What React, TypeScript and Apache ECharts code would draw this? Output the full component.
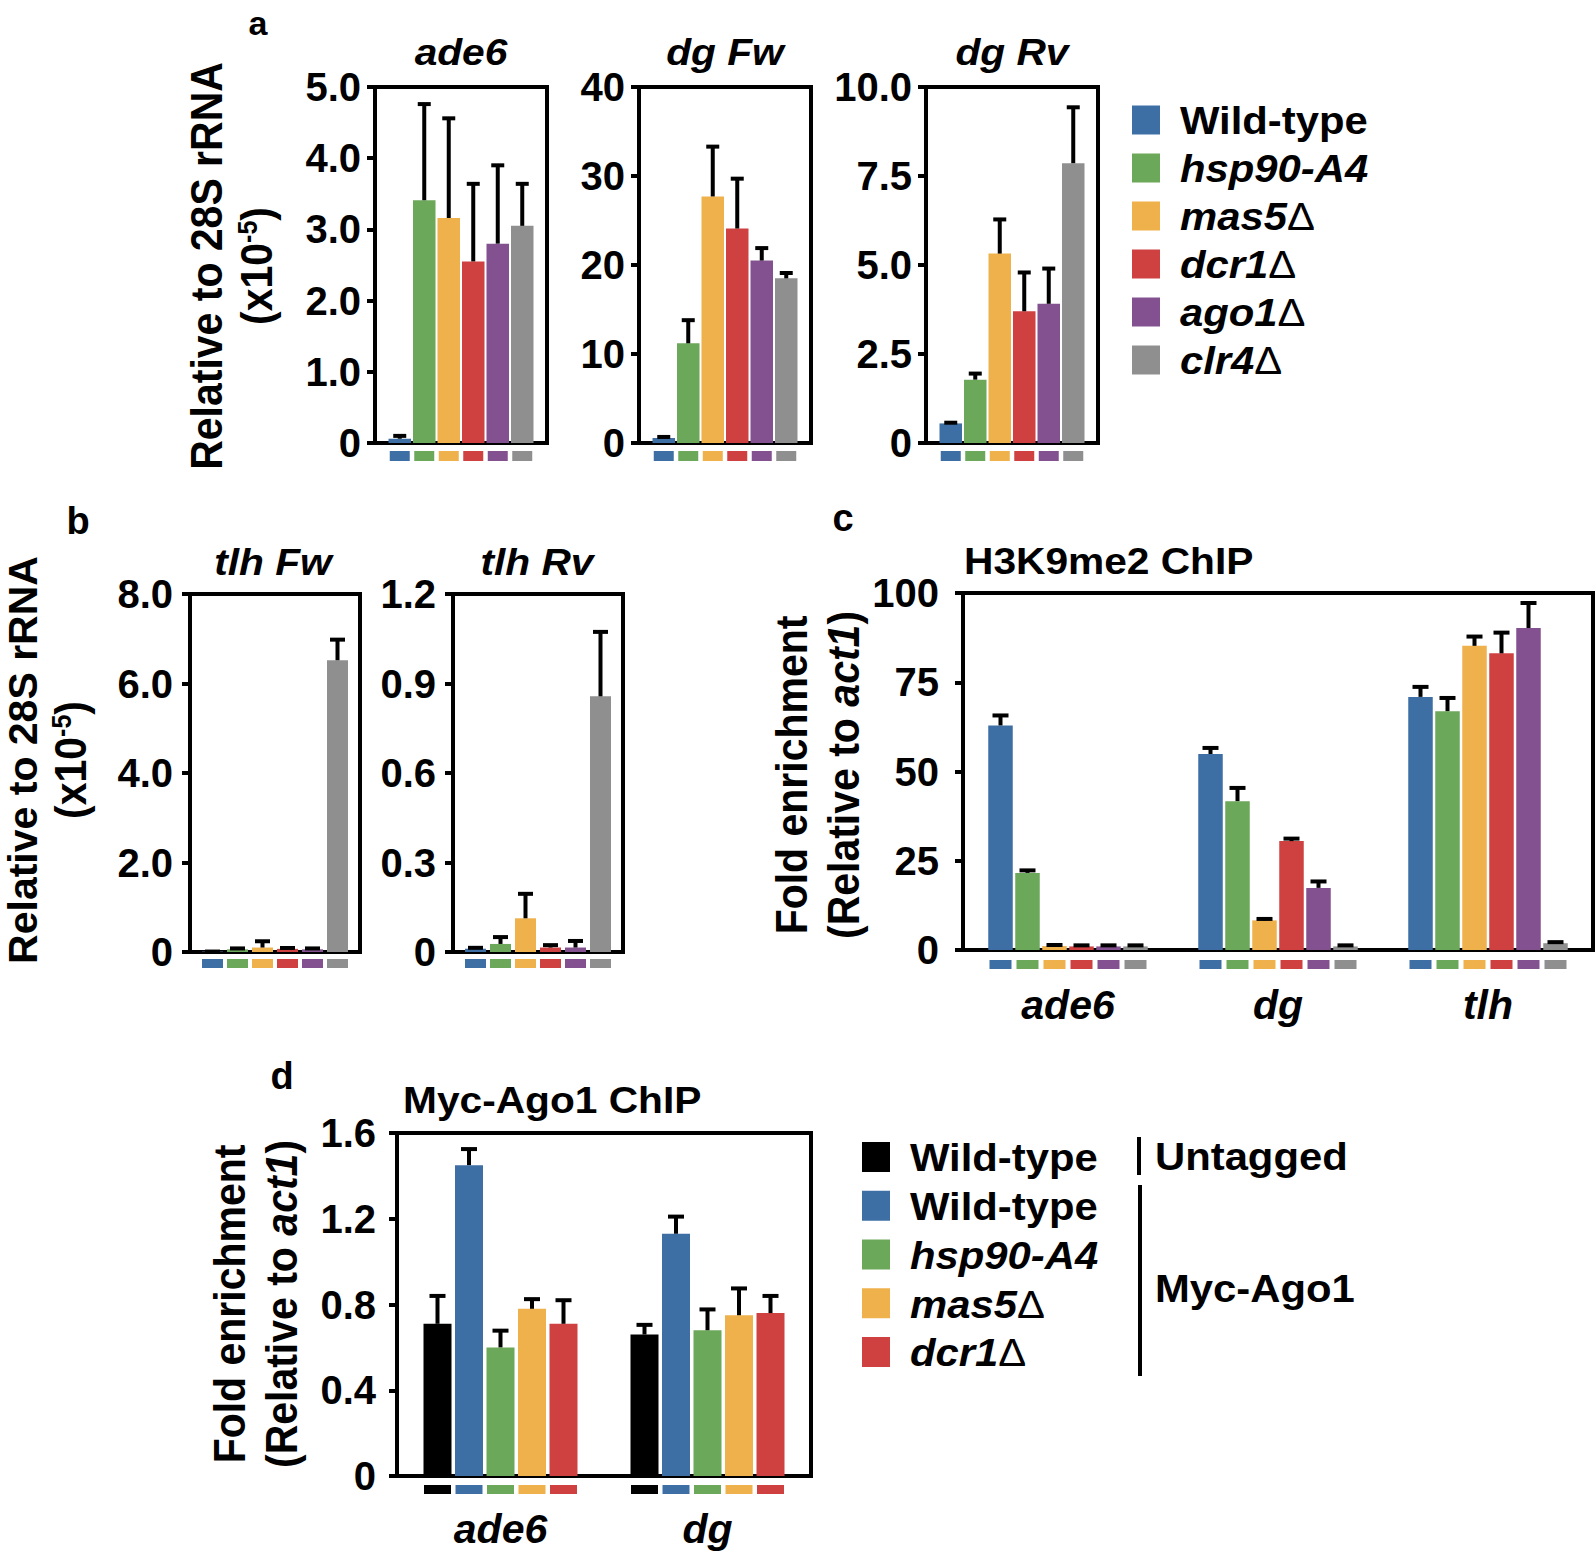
import React, { useEffect, useRef } from 'react';
import * as echarts from 'echarts';

const FONT = '"Liberation Sans", Arial, Helvetica, sans-serif';

// ---- strains (panels a–c) ----
const strains = ['Wild-type', 'hsp90-A4', 'mas5Δ', 'dcr1Δ', 'ago1Δ', 'clr4Δ'];
const strainColors = ['#3D6EA4', '#6BA859', '#EFB14B', '#CF4141', '#845190', '#8F8F8F'];

// ---- panel a: relative to 28S rRNA (x10-5) ----
const ade6Expr = [0.06, 3.41, 3.16, 2.55, 2.8, 3.05];
const ade6ExprErr = [0.04, 1.35, 1.4, 1.09, 1.1, 0.59];
const dgFwExpr = [0.56, 11.2, 27.7, 24.1, 20.5, 18.5];
const dgFwExprErr = [0.12, 2.6, 5.6, 5.6, 1.4, 0.6];
const dgRvExpr = [0.55, 1.78, 5.32, 3.7, 3.91, 7.86];
const dgRvExprErr = [0.02, 0.17, 0.96, 1.09, 0.99, 1.57];
const ade6Ticks = ['0', '1.0', '2.0', '3.0', '4.0', '5.0'];
const dgFwTicks = ['0', '10', '20', '30', '40'];
const dgRvTicks = ['0', '2.5', '5.0', '7.5', '10.0'];

// ---- panel b ----
const tlhFwExpr = [0.01, 0.06, 0.1, 0.07, 0.06, 6.52];
const tlhFwExprErr = [0, 0.02, 0.14, 0.02, 0.02, 0.46];
const tlhRvExpr = [0.011, 0.027, 0.113, 0.015, 0.015, 0.857];
const tlhRvExprErr = [0.003, 0.023, 0.082, 0.008, 0.022, 0.216];
const tlhFwTicks = ['0', '2.0', '4.0', '6.0', '8.0'];
const tlhRvTicks = ['0', '0.3', '0.6', '0.9', '1.2'];

// ---- panel c: H3K9me2 ChIP ----
const h3k9Loci = ['ade6', 'dg', 'tlh'];
const h3k9WildType = [62.9, 54.9, 70.9];
const h3k9Hsp90 = [21.6, 41.7, 66.9];
const h3k9Mas5 = [1.1, 8.3, 85.2];
const h3k9Dcr1 = [1.0, 30.5, 83.1];
const h3k9Ago1 = [1.0, 17.4, 90.2];
const h3k9Clr4 = [1.0, 1.0, 1.9];
const h3k9WildTypeErr = [2.8, 1.7, 2.8];
const h3k9Hsp90Err = [0.7, 3.7, 3.7];
const h3k9Mas5Err = [0.3, 0.4, 2.6];
const h3k9Dcr1Err = [0.3, 0.7, 5.8];
const h3k9Ago1Err = [0.3, 1.8, 7.0];
const h3k9Clr4Err = [0.3, 0.3, 0.3];
const h3k9Ticks = ['0', '25', '50', '75', '100'];

// ---- panel d: Myc-Ago1 ChIP ----
const agoLoci = ['ade6', 'dg'];
const agoStrains = ['Wild-type', 'Wild-type', 'hsp90-A4', 'mas5Δ', 'dcr1Δ'];
const agoColors = ['#000000', '#3D6EA4', '#6BA859', '#EFB14B', '#CF4141'];
const agoUntagged = [0.71, 0.66];
const agoWildType = [1.45, 1.13];
const agoHsp90 = [0.6, 0.68];
const agoMas5 = [0.78, 0.75];
const agoDcr1 = [0.71, 0.76];
const agoUntaggedErr = [0.13, 0.045];
const agoWildTypeErr = [0.075, 0.08];
const agoHsp90Err = [0.078, 0.097];
const agoMas5Err = [0.045, 0.125];
const agoDcr1Err = [0.11, 0.08];
const agoTicks = ['0', '0.4', '0.8', '1.2', '1.6'];

type Panel = {
  left: number; right: number; top: number; bottom: number;
  max: number; interval: number; ticks: string[];
  cats: string[]; showCats: boolean; catMargin: number;
  values: number[][]; errors: number[][]; colors: string[];
  barW: number; gap: number; capW: number;
  sqW: number; sqH: number; sqOff: number; labelMargin: number;
};

const single = (vals: number[]) => vals.map((v) => [v]);

const aBase = { top: 87, bottom: 443, cats: ['x'], showCats: false, catMargin: 0, colors: strainColors,
  barW: 22.5, gap: 2, capW: 13, sqW: 20, sqH: 10, sqOff: 8, labelMargin: 14 };
const bBase = { top: 594, bottom: 952, cats: ['x'], showCats: false, catMargin: 0, colors: strainColors,
  barW: 21, gap: 4, capW: 15, sqW: 21, sqH: 9, sqOff: 7, labelMargin: 17 };

const panels: Panel[] = [
  { ...aBase, left: 375, right: 547, max: 5, interval: 1, ticks: ade6Ticks, values: single(ade6Expr), errors: single(ade6ExprErr) },
  { ...aBase, left: 639, right: 811, max: 40, interval: 10, ticks: dgFwTicks, values: single(dgFwExpr), errors: single(dgFwExprErr) },
  { ...aBase, left: 926, right: 1098, max: 10, interval: 2.5, ticks: dgRvTicks, values: single(dgRvExpr), errors: single(dgRvExprErr) },
  { ...bBase, left: 190, right: 360, max: 8, interval: 2, ticks: tlhFwTicks, values: single(tlhFwExpr), errors: single(tlhFwExprErr) },
  { ...bBase, left: 453, right: 623, max: 1.2, interval: 0.3, ticks: tlhRvTicks, values: single(tlhRvExpr), errors: single(tlhRvExprErr) },
  {
    left: 963, right: 1593, top: 593, bottom: 950, max: 100, interval: 25, ticks: h3k9Ticks,
    cats: h3k9Loci, showCats: true, catMargin: 35, colors: strainColors,
    values: [h3k9WildType, h3k9Hsp90, h3k9Mas5, h3k9Dcr1, h3k9Ago1, h3k9Clr4],
    errors: [h3k9WildTypeErr, h3k9Hsp90Err, h3k9Mas5Err, h3k9Dcr1Err, h3k9Ago1Err, h3k9Clr4Err],
    barW: 24.5, gap: 2.5, capW: 16, sqW: 22, sqH: 9, sqOff: 10, labelMargin: 24,
  },
  {
    left: 397, right: 811, top: 1133, bottom: 1476, max: 1.6, interval: 0.4, ticks: agoTicks,
    cats: agoLoci, showCats: true, catMargin: 33, colors: agoColors,
    values: [agoUntagged, agoWildType, agoHsp90, agoMas5, agoDcr1],
    errors: [agoUntaggedErr, agoWildTypeErr, agoHsp90Err, agoMas5Err, agoDcr1Err],
    barW: 28, gap: 3.5, capW: 16, sqW: 27, sqH: 9, sqOff: 9, labelMargin: 21,
  },
];

function buildOption() {
  const grid: any[] = [];
  const xAxis: any[] = [];
  const yAxis: any[] = [];
  const series: any[] = [];

  panels.forEach((p, gi) => {
    grid.push({
      left: p.left, top: p.top, width: p.right - p.left, height: p.bottom - p.top,
      show: true, borderColor: '#000', borderWidth: 4, backgroundColor: 'rgba(0,0,0,0)',
    });
    xAxis.push({
      gridIndex: gi, type: 'category', data: p.cats,
      axisLine: { show: true, onZero: false, lineStyle: { color: '#000', width: 4 } },
      axisTick: { show: false },
      axisLabel: {
        show: p.showCats, margin: p.catMargin, color: '#000', fontFamily: FONT,
        fontSize: 41, lineHeight: 40, fontWeight: 'bold', fontStyle: 'italic',
      },
      splitLine: { show: false },
    });
    yAxis.push({
      gridIndex: gi, type: 'value', min: 0, max: p.max, interval: p.interval,
      axisLine: { show: true, lineStyle: { color: '#000', width: 4 } },
      axisTick: { show: true, length: 8, lineStyle: { color: '#000', width: 4 } },
      axisLabel: {
        margin: p.labelMargin, color: '#000', fontFamily: FONT, fontSize: 40, fontWeight: 'bold',
        formatter: (v: number) => p.ticks[Math.round(v / p.interval)] ?? '',
      },
      splitLine: { show: false },
    });

    const n = p.colors.length;
    const total = n * p.barW + (n - 1) * p.gap;
    const off = (i: number) => -total / 2 + p.barW / 2 + i * (p.barW + p.gap);

    p.values.forEach((vals, i) => {
      series.push({
        type: 'bar', xAxisIndex: gi, yAxisIndex: gi, data: vals, silent: true,
        barWidth: p.barW, barGap: (p.gap / p.barW) * 100 + '%',
        itemStyle: { color: p.colors[i] },
      });
    });
    p.values.forEach((vals, i) => {
      series.push({
        type: 'custom', xAxisIndex: gi, yAxisIndex: gi, clip: false, silent: true, z: 5,
        encode: { x: 0, y: 1 },
        data: vals.map((v, c) => [c, v, p.errors[i][c]]),
        renderItem: (_params: any, api: any) => {
          const c = api.value(0);
          const v = api.value(1);
          const e = api.value(2);
          const b = api.coord([c, v]);
          const t = api.coord([c, v + e]);
          const x = b[0] + off(i);
          return {
            type: 'group',
            children: [
              { type: 'line', shape: { x1: x, y1: b[1], x2: x, y2: t[1] }, style: { stroke: '#000', lineWidth: 4 } },
              { type: 'line', shape: { x1: x - p.capW / 2, y1: t[1], x2: x + p.capW / 2, y2: t[1] }, style: { stroke: '#000', lineWidth: 4 } },
            ],
          };
        },
      });
    });
    const sq: number[][] = [];
    p.cats.forEach((_c, c) => p.colors.forEach((_col, i) => sq.push([c, 0, i])));
    series.push({
      type: 'custom', xAxisIndex: gi, yAxisIndex: gi, clip: false, silent: true,
      encode: { x: 0, y: 1 }, data: sq,
      renderItem: (_params: any, api: any) => {
        const c = api.value(0);
        const i = api.value(2);
        const b = api.coord([c, 0]);
        const x = b[0] + off(i);
        return {
          type: 'rect',
          shape: { x: x - p.sqW / 2, y: b[1] + p.sqOff, width: p.sqW, height: p.sqH },
          style: { fill: p.colors[i] },
        };
      },
    });
  });

  const rs = (size: number) => ({
    n: { fontFamily: FONT, fontSize: size, fontWeight: 'bold', fontStyle: 'normal', fill: '#000' },
    i: { fontFamily: FONT, fontSize: size, fontWeight: 'bold', fontStyle: 'italic', fill: '#000' },
    d: { fontFamily: FONT, fontSize: size, fontWeight: 'normal', fontStyle: 'normal', fill: '#000' },
    s: { fontFamily: FONT, fontSize: Math.round(size * 0.62), fontWeight: 'bold', fontStyle: 'normal', fill: '#000', verticalAlign: 'top' },
  });

  const text = (x: number, y: number, t: string, size: number, extra: any = {}) => ({
    type: 'text', x, y, silent: true,
    rotation: extra.rotation ?? 0, scaleX: extra.scaleX ?? 1, scaleY: extra.scaleY ?? 1,
    style: {
      text: t, fontFamily: FONT, fontSize: size, fontWeight: 'bold',
      fontStyle: extra.italic ? 'italic' : 'normal', fill: '#000',
      align: extra.align ?? 'center', textAlign: extra.align ?? 'center',
      verticalAlign: 'middle', textVerticalAlign: 'middle',
      rich: extra.rich,
    },
  });

  const strainLabel = (s: string, italic: boolean) => {
    if (s.endsWith('Δ')) return `{i|${s.slice(0, -1)}}{d|Δ}`;
    return italic ? `{i|${s}}` : `{n|${s}}`;
  };

  const graphic: any[] = [];
  // panel letters
  graphic.push(text(258, 23, 'a', 34));
  graphic.push(text(78, 521, 'b', 38));
  graphic.push(text(843, 518, 'c', 38));
  graphic.push(text(282, 1076, 'd', 38));

  // panel titles
  graphic.push(text(461, 52, 'ade6', 37, { italic: true, scaleX: 1.1 }));
  graphic.push(text(725, 52, 'dg Fw', 37, { italic: true, scaleX: 1.1 }));
  graphic.push(text(1012, 52, 'dg Rv', 37, { italic: true, scaleX: 1.1 }));
  graphic.push(text(273, 562, 'tlh Fw', 37, { italic: true, scaleX: 1.1 }));
  graphic.push(text(537, 562, 'tlh Rv', 37, { italic: true, scaleX: 1.1 }));
  graphic.push(text(964, 561, 'H3K9me2 ChIP', 37, { align: 'left', scaleX: 1.1 }));
  graphic.push(text(403, 1100, 'Myc-Ago1 ChIP', 37, { align: 'left', scaleX: 1.1 }));

  // y-axis titles (rotated)
  const rot = { rotation: Math.PI / 2, scaleY: 1.1 };
  graphic.push(text(206, 266, 'Relative to 28S rRNA', 41, rot));
  graphic.push(text(256, 266, '{n|(x10}{s|-5}{n|)}', 41, { ...rot, rich: rs(41) }));
  graphic.push(text(23, 760, 'Relative to 28S rRNA', 41, { rotation: Math.PI / 2 }));
  graphic.push(text(70, 760, '{n|(x10}{s|-5}{n|)}', 41, { ...rot, rich: rs(41) }));
  graphic.push(text(791, 775, 'Fold enrichment', 41, rot));
  graphic.push(text(843, 775, '{n|(Relative to }{i|act1}{n|)}', 41, { ...rot, rich: rs(41) }));
  graphic.push(text(229, 1304, 'Fold enrichment', 41, rot));
  graphic.push(text(281, 1304, '{n|(Relative to }{i|act1}{n|)}', 41, { ...rot, rich: rs(41) }));

  // legend (panels a–c)
  strains.forEach((s, i) => {
    const cy = 120 + 48 * i;
    graphic.push({ type: 'rect', silent: true, shape: { x: 1132, y: cy - 14.5, width: 28, height: 29 }, style: { fill: strainColors[i] } });
    graphic.push(text(1180, cy + 1, strainLabel(s, i > 0), 38, { align: 'left', scaleX: 1.1, rich: rs(38) }));
  });
  // legend (panel d)
  agoStrains.forEach((s, i) => {
    const cy = 1157 + 48.75 * i;
    graphic.push({ type: 'rect', silent: true, shape: { x: 862, y: cy - 15, width: 28, height: 30 }, style: { fill: agoColors[i] } });
    graphic.push(text(910, cy + 1, strainLabel(s, i > 1), 38, { align: 'left', scaleX: 1.1, rich: rs(38) }));
  });
  graphic.push({ type: 'line', silent: true, shape: { x1: 1139, y1: 1137, x2: 1139, y2: 1175 }, style: { stroke: '#000', lineWidth: 4 } });
  graphic.push({ type: 'line', silent: true, shape: { x1: 1140, y1: 1185, x2: 1140, y2: 1376 }, style: { stroke: '#000', lineWidth: 4 } });
  graphic.push(text(1155, 1157, 'Untagged', 38, { align: 'left', scaleX: 1.1 }));
  graphic.push(text(1155, 1289, 'Myc-Ago1', 38, { align: 'left', scaleX: 1.1 }));

  return { animation: false, backgroundColor: '#fff', grid, xAxis, yAxis, series, graphic };
}

export default function App() {
  const ref = useRef<HTMLDivElement>(null);
  useEffect(() => {
    if (!ref.current) return;
    const chart = echarts.init(ref.current, null, { renderer: 'svg' });
    chart.setOption(buildOption());
    return () => chart.dispose();
  }, []);
  return (
    <div
      ref={ref}
      style={{ position: 'absolute', left: 0, top: 0, width: 1595, height: 1552, background: '#fff' }}
    />
  );
}
